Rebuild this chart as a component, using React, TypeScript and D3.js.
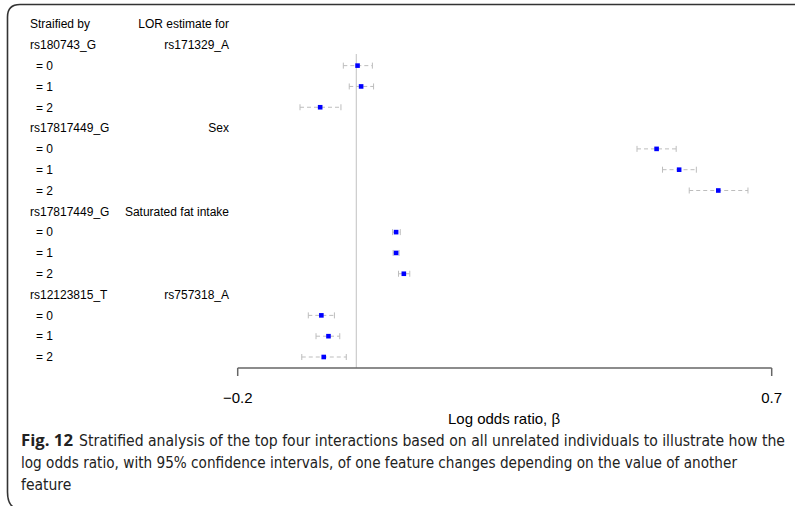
import React from 'react'
import * as d3 from 'd3'

// stratified LOR estimates
const stratifiedBy = ['rs180743_G', 'rs17817449_G', 'rs17817449_G', 'rs12123815_T']
const estimateFor = ['rs171329_A', 'Sex', 'Saturated fat intake', 'rs757318_A']
const strata = ['= 0', '= 1', '= 2']
const estimates = [
  [0.002, 0.008, -0.061],
  [0.506, 0.544, 0.61],
  [0.067, 0.067, 0.08],
  [-0.059, -0.047, -0.055],
]
const lower = [
  [-0.022, -0.012, -0.095],
  [0.473, 0.516, 0.561],
  [0.061, 0.062, 0.071],
  [-0.081, -0.068, -0.092],
]
const upper = [
  [0.027, 0.029, -0.026],
  [0.539, 0.573, 0.66],
  [0.074, 0.072, 0.09],
  [-0.037, -0.028, -0.017],
]
const tickValues = [-0.2, 0.7]
const tickLabels = ['\u22120.2', '0.7']
const captionLines = [
  'Stratified analysis of the top four interactions based on all unrelated individuals to illustrate how the',
  'log odds ratio, with 95% confidence intervals, of one feature changes depending on the value of another',
  'feature',
]

const W = 795
const H = 506

export default function App() {
  const x = d3.scaleLinear().domain([-0.2, 0.7]).range([237.7, 771.7])
  const nRows = 1 + stratifiedBy.length * (strata.length + 1)
  const y = d3.scaleLinear().domain([0, nRows - 1]).range([24, 357])

  const sans = "Arial, 'Liberation Sans', Helvetica, sans-serif"
  const narrow = "'Liberation Sans Narrow', 'Arial Narrow', 'DejaVu Sans Condensed', sans-serif"

  const rows: any[] = []
  stratifiedBy.forEach((g, gi) => {
    const base = 1 + gi * (strata.length + 1)
    rows.push({ type: 'head', i: base, left: g, right: estimateFor[gi] })
    strata.forEach((s, si) => {
      rows.push({
        type: 'est', i: base + 1 + si, left: s,
        est: estimates[gi][si], lo: lower[gi][si], hi: upper[gi][si],
      })
    })
  })

  const axisY = 368
  const capH = 3

  return (
    <svg width={W} height={H} style={{ position: 'absolute', left: 0, top: 0, display: 'block', background: '#fff' }}>
      {/* frame */}
      <path d={`M${W},4.5 H20 Q7.5,4.5 7.5,17 V492 Q7.5,503 13,507`} fill="none" stroke="#333" strokeWidth={1.6} />

      {/* header */}
      <text x={30} y={y(0) + 4.3} fontFamily={sans} fontSize={12} fill="#000">Straified by</text>
      <text x={229} y={y(0) + 4.3} fontFamily={sans} fontSize={12} fill="#000" textAnchor="end">LOR estimate for</text>

      {/* zero line */}
      <line x1={x(0)} x2={x(0)} y1={54} y2={axisY} stroke="#cfcfcf" strokeWidth={1.3} />

      {rows.map((r, k) => (
        <g key={k}>
          {r.type === 'head' ? (
            <>
              <text x={30} y={y(r.i) + 4.3} fontFamily={sans} fontSize={12} fill="#000">{r.left}</text>
              <text x={229} y={y(r.i) + 4.3} fontFamily={sans} fontSize={12} fill="#000" textAnchor="end">{r.right}</text>
            </>
          ) : (
            <>
              <text x={36} y={y(r.i) + 4.3} fontFamily={sans} fontSize={12} fill="#000">{r.left}</text>
              <line x1={x(r.lo)} x2={x(r.hi)} y1={y(r.i)} y2={y(r.i)} stroke="#bdbdbd" strokeWidth={1} strokeDasharray="4,3" />
              <line x1={x(r.lo)} x2={x(r.lo)} y1={y(r.i) - capH} y2={y(r.i) + capH} stroke="#bdbdbd" strokeWidth={1} />
              <line x1={x(r.hi)} x2={x(r.hi)} y1={y(r.i) - capH} y2={y(r.i) + capH} stroke="#bdbdbd" strokeWidth={1} />
              <rect x={x(r.est) - 2.3} y={y(r.i) - 2.3} width={4.6} height={4.6} fill="#0000ff" />
            </>
          )}
        </g>
      ))}

      {/* x axis */}
      <line x1={x(tickValues[0])} x2={x(tickValues[tickValues.length - 1])} y1={axisY} y2={axisY} stroke="#666" strokeWidth={1.5} />
      {tickValues.map((t, i) => (
        <g key={i}>
          <line x1={x(t)} x2={x(t)} y1={axisY} y2={axisY + 8} stroke="#666" strokeWidth={1.5} />
          <text x={x(t)} y={403} fontFamily={sans} fontSize={15} textAnchor="middle" fill="#000">{tickLabels[i]}</text>
        </g>
      ))}
      <text x={504} y={424} fontFamily={sans} fontSize={15} textAnchor="middle" fill="#000">Log odds ratio, β</text>

      {/* caption */}
      <text y={446} fontFamily={narrow} fontSize={15.5} fill="#222">
        <tspan x={21} fontWeight="bold" fontFamily="'Open Sans', sans-serif" fontSize={15.5} textLength={52} lengthAdjust="spacingAndGlyphs">Fig. 12</tspan>
        <tspan x={79} textLength={706} lengthAdjust="spacingAndGlyphs">{captionLines[0]}</tspan>
      </text>
      <text x={21} y={468} fontFamily={narrow} fontSize={15.5} fill="#222" textLength={716} lengthAdjust="spacingAndGlyphs">{captionLines[1]}</text>
      <text x={21} y={490} fontFamily={narrow} fontSize={15.5} fill="#222">{captionLines[2]}</text>
    </svg>
  )
}
